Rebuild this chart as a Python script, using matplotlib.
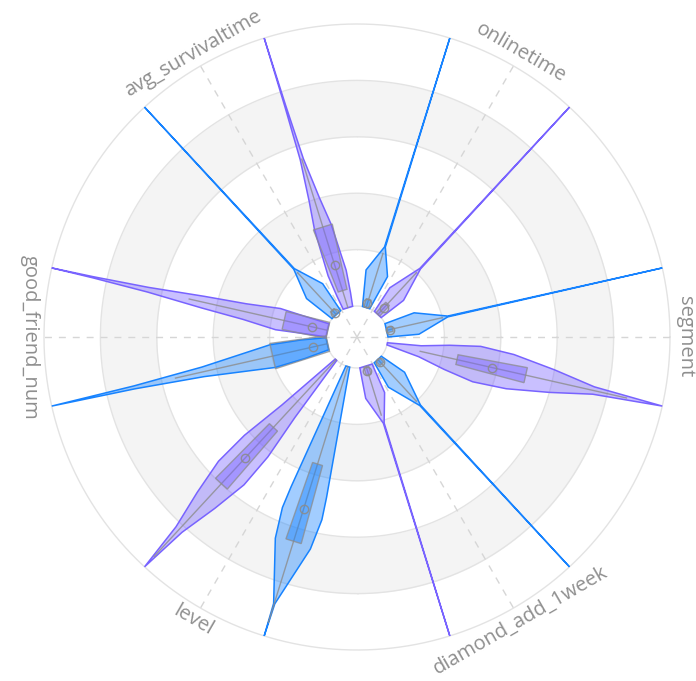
import numpy as np
import matplotlib.pyplot as plt

plt.rcParams['font.family'] = ['Open Sans', 'DejaVu Sans']

fields = ['onlinetime', 'segment', 'diamond_add_1week', 'level',
          'good_friend_num', 'avg_survivaltime']
series = ['blue', 'purple']
colors = {'blue': '#1783FF', 'purple': '#7863FF'}

# violin outlines: normalized value -> relative density
violin_pos = {
    ('onlinetime', 'blue'): [0, 0.13, 0.224, 1.0],
    ('onlinetime', 'purple'): [0, 0.10, 0.22, 1.0],
    ('segment', 'blue'): [0, 0.11, 0.22, 1.0],
    ('segment', 'purple'): [0, 0.12, 0.22, 0.33, 0.45, 0.60, 0.75, 1.0],
    ('diamond_add_1week', 'blue'): [0, 0.10, 0.22, 1.0],
    ('diamond_add_1week', 'purple'): [0, 0.11, 0.21, 1.0],
    ('level', 'blue'): [0, 0.47, 0.55, 0.66, 0.88, 1.0],
    ('level', 'purple'): [0, 0.25, 0.42, 0.55, 0.68, 0.82, 1.0],
    ('good_friend_num', 'blue'): [0, 0.09, 0.20, 0.45, 0.70, 1.0],
    ('good_friend_num', 'purple'): [0, 0.10, 0.18, 0.30, 0.45, 0.65, 0.85, 1.0],
    ('avg_survivaltime', 'blue'): [0, 0.115, 0.219, 1.0],
    ('avg_survivaltime', 'purple'): [0, 0.05, 0.13, 0.30, 0.40, 0.55, 0.75, 1.0],
}
violin_density = {
    ('onlinetime', 'blue'): [0.55, 0.75, 0.02, 0],
    ('onlinetime', 'purple'): [0.67, 0.71, 0.02, 0],
    ('segment', 'blue'): [1.0, 0.80, 0.02, 0],
    ('segment', 'purple'): [0.16, 0.39, 0.60, 0.66, 0.50, 0.26, 0.07, 0],
    ('diamond_add_1week', 'blue'): [0.70, 0.84, 0.02, 0],
    ('diamond_add_1week', 'purple'): [0.94, 0.72, 0.02, 0],
    ('level', 'blue'): [0.29, 0.51, 0.50, 0.38, 0.01, 0],
    ('level', 'purple'): [0.15, 0.40, 0.48, 0.42, 0.24, 0.07, 0],
    ('good_friend_num', 'blue'): [0.90, 0.76, 0.60, 0.14, 0.03, 0],
    ('good_friend_num', 'purple'): [0.98, 0.68, 0.60, 0.31, 0.17, 0.05, 0.01, 0],
    ('avg_survivaltime', 'blue'): [0.86, 0.78, 0.02, 0],
    ('avg_survivaltime', 'purple'): [0.72, 0.70, 0.63, 0.34, 0.17, 0.04, 0.01, 0],
}

# box stats: q1, median, q3, whisker low, whisker high
box_stats = {
    ('onlinetime', 'blue'): [0, 0.015, 0.03, 0, 0.2],
    ('onlinetime', 'purple'): [0, 0.03, 0.05, 0, 0.2],
    ('segment', 'blue'): [0, 0.01, 0.02, 0, 0.2],
    ('segment', 'purple'): [0.254, 0.381, 0.504, 0.12, 0.87],
    ('diamond_add_1week', 'blue'): [0, 0.01, 0.02, 0, 0.2],
    ('diamond_add_1week', 'purple'): [0, 0.015, 0.03, 0, 0.18],
    ('level', 'blue'): [0.362, 0.528, 0.649, 0, 0.95],
    ('level', 'purple'): [0.327, 0.475, 0.599, 0, 0.95],
    ('good_friend_num', 'blue'): [0, 0.05, 0.20, 0, 0.55],
    ('good_friend_num', 'purple'): [0, 0.053, 0.157, 0, 0.5],
    ('avg_survivaltime', 'blue'): [0, 0.005, 0.02, 0, 0.2],
    ('avg_survivaltime', 'purple'): [0.063, 0.156, 0.30, 0, 0.55],
}

# style: box half widths in pixels at the inner / outer end
box_half_px = {
    ('segment', 'purple'): (5, 7.7),
    ('level', 'blue'): (5.2, 8),
    ('level', 'purple'): (5.5, 8),
    ('good_friend_num', 'blue'): (8, 13),
    ('good_friend_num', 'purple'): (8.3, 9.2),
    ('avg_survivaltime', 'purple'): (4.6, 9.9),
}

W, H = 696, 681
cx, cy, R = 357, 337, 313
r0_px = 31
rorigin = -r0_px / (R - r0_px)
band_half = 12.75          # degrees from category center to each violin
violin_max = 12.75         # degrees for density 1
gray = '#8c8c8c'


def r_px(v):
    return r0_px + v * (R - r0_px)


fig = plt.figure(figsize=(W / 100, H / 100), dpi=100)
ax = fig.add_axes([(cx - R) / W, (H - cy - R) / H, 2 * R / W, 2 * R / H],
                  projection='polar')
ax.set_ylim(0, 1)
ax.set_rorigin(rorigin)
ax.set_axis_off()

full = np.linspace(0, 2 * np.pi, 720)
for lo, hi in [(0.2, 0.4), (0.6, 0.8)]:
    ax.fill_between(full, lo, hi, color='#f4f4f4', lw=0, zorder=0)
for rv in np.arange(0, 1.01, 0.2):
    ax.plot(full, np.full_like(full, rv), color='#e3e3e3', lw=1, zorder=1,
            clip_on=False)

centers = {f: 60 - 60 * i for i, f in enumerate(fields)}
for f in fields:
    a = np.deg2rad(centers[f])
    ax.plot([a, a], [rorigin + 1e-6, 1], color='#d6d6d6', lw=1,
            ls=(0, (5, 5)), zorder=1, clip_on=False)

    deg = centers[f] % 360
    rot = deg - 90 if deg < 180 else deg + 90 - 360
    ax.text(a, 1.052, f, rotation=rot, rotation_mode='anchor', ha='center',
            va='center', fontsize=14.5, color='#8f8f8f', clip_on=False)

for f in fields:
    for k, s in enumerate(series):
        key = (f, s)
        th = centers[f] + (band_half if k == 0 else -band_half)
        v = np.array(violin_pos[key])
        d = np.array(violin_density[key]) * violin_max
        ang = np.concatenate([th + d, (th - d)[::-1]])
        rr = np.concatenate([v, v[::-1]])
        ax.fill(np.deg2rad(ang), rr, facecolor=colors[s], alpha=0.4,
                edgecolor='none', zorder=3, clip_on=False)
        ax.fill(np.deg2rad(ang), rr, facecolor='none', edgecolor=colors[s],
                lw=1.1, zorder=4, clip_on=False)

        q1, med, q3, wlo, whi = box_stats[key]
        t = np.deg2rad(th)
        ax.plot([t, t], [wlo, whi], color=gray, lw=1, alpha=0.8, zorder=5,
                clip_on=False)
        hin, hout = box_half_px.get(key, (2.5, 2.5))
        win = np.rad2deg(hin / r_px(q1))
        wout = np.rad2deg(hout / r_px(q3))
        bx = np.deg2rad([th - win, th + win, th + wout, th - wout])
        ax.fill(bx, [q1, q1, q3, q3], facecolor=colors[s], alpha=0.45,
                edgecolor='none', zorder=6, clip_on=False)
        ax.fill(bx, [q1, q1, q3, q3], facecolor='none', edgecolor=gray,
                alpha=0.75, lw=1, zorder=7, clip_on=False)
        ax.plot([t], [med], 'o', ms=6, mfc='none', mec=gray, mew=1,
                alpha=0.9, zorder=8, clip_on=False)

fig.savefig('out.png', dpi=100)
